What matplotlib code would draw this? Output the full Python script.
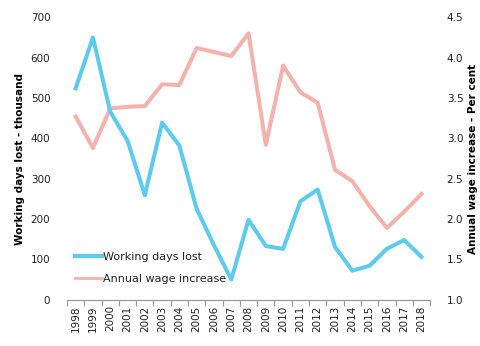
import matplotlib
matplotlib.use('Agg')
from matplotlib import pyplot as plt
from matplotlib.lines import Line2D

years = [str(y) for y in range(1998, 2019)]
days_lost = [524, 650, 466, 394, 259, 439, 382, 225, 135, 50, 198, 133, 126, 244, 273,
             131, 72, 84, 126, 148, 106]
wage_increase = [3.27, 2.88, 3.37, 3.39, 3.40, 3.67, 3.66, 4.12, 4.07, 4.02, 4.30, 2.92,
                 3.90, 3.57, 3.44, 2.61, 2.47, 2.16, 1.89, 2.09, 2.31]

blue = '#5BCBEF'
pink = '#F5B2AC'
txt = '#222222'

plt.rcParams['font.family'] = 'DejaVu Sans'
fig = plt.figure(figsize=(4.8, 3.46), dpi=100)
ax1 = fig.add_axes([0.1396, 0.1338, 0.7564, 0.8162])
ax2 = ax1.twinx()

x = range(len(years))
ax1.plot(x, days_lost, color=blue, linewidth=2.9, solid_joinstyle='round', zorder=3)
ax2.plot(x, wage_increase, color=pink, linewidth=2.9, solid_joinstyle='round', zorder=2)
ax1.set_zorder(ax2.get_zorder() + 1)
ax1.patch.set_visible(False)

ax1.set_xlim(-0.5, len(years) - 0.5)
ax1.set_ylim(0, 700)
ax2.set_ylim(1.0, 4.5)
ax1.set_yticks(range(0, 701, 100))
ax2.set_yticks([1.0, 1.5, 2.0, 2.5, 3.0, 3.5, 4.0, 4.5])
ax2.set_yticklabels(['%.1f' % v for v in ax2.get_yticks()])

# tick marks between the categories, labels centred on them
ax1.set_xticks([i - 0.5 for i in range(len(years) + 1)], minor=False)
ax1.set_xticklabels([])
ax1.set_xticks(list(x), minor=True)
ax1.set_xticklabels(years, minor=True, rotation=90, fontsize=7.5, color=txt)
ax1.tick_params(axis='x', which='major', length=4, color='#999999', direction='out')
ax1.tick_params(axis='x', which='minor', length=0, pad=4)
ax1.tick_params(axis='y', length=0, pad=12, labelsize=7.5, labelcolor=txt)
ax2.tick_params(axis='y', length=0, pad=12, labelsize=7.5, labelcolor=txt)

for a in (ax1, ax2):
    for s in ('top', 'left', 'right'):
        a.spines[s].set_visible(False)
    a.spines['bottom'].set_color('#999999')

ax1.set_ylabel('Working days lost - thousand', fontsize=7.5, fontweight='bold', labelpad=4)
ax2.set_ylabel('Annual wage increase - Per cent', fontsize=7.5, fontweight='bold', labelpad=3)

handles = [Line2D([], [], color=blue, linewidth=3),
           Line2D([], [], color=pink, linewidth=2)]
ax1.legend(handles, ['Working days lost', 'Annual wage increase'], loc='lower left',
           bbox_to_anchor=(-0.005, 0.02), frameon=False, fontsize=8, handlelength=2.4,
           handletextpad=0.1, labelspacing=1.1, labelcolor=txt)

plt.savefig('out.png', dpi=100)
